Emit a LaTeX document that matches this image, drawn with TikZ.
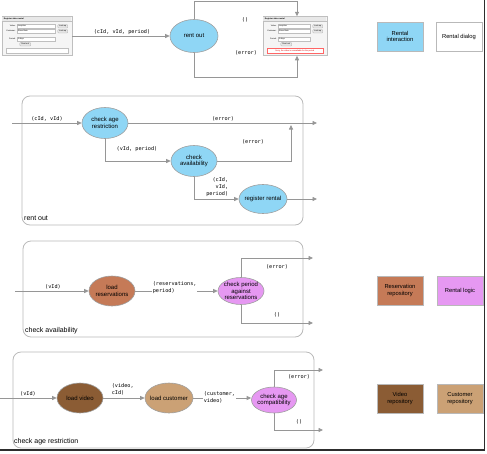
\documentclass[tikz,border=0pt]{standalone}
\usepackage{fontspec}
\setmainfont{Liberation Sans}
\setmonofont{DejaVu Sans Mono}
\usetikzlibrary{shapes.geometric,arrows.meta}
\definecolor{blueFill}{RGB}{143,214,245}
\definecolor{resFill}{RGB}{197,122,87}
\definecolor{logicFill}{RGB}{230,152,242}
\definecolor{videoFill}{RGB}{139,92,52}
\definecolor{custFill}{RGB}{203,161,117}
\definecolor{lineGray}{RGB}{150,150,150}
\begin{document}
\begin{tikzpicture}
            [x=1pt,y=-1pt,
             Proc/.style={ellipse,draw=gray!75,line width=0.6pt,inner sep=-2pt,align=center,font=\fontsize{6}{6.8}\selectfont},
             Key/.style={rectangle,draw=gray!55,line width=0.7pt,minimum width=46,minimum height=29,inner sep=0pt,align=center,font=\fontsize{5.8}{6.6}\selectfont},
             Flow/.style={draw=lineGray,line width=0.8pt,-{Triangle[length=4.5pt,width=4pt]}},
             Arg/.style={font=\ttfamily\fontsize{5.2}{7}\selectfont,fill=white,inner sep=0.6pt},
             Frame/.style={draw=gray!55,line width=0.8pt,rounded corners=8pt},
             Title/.style={anchor=west,inner sep=0pt,font=\fontsize{7}{8}\selectfont},
             Dialog/.style={rectangle,draw=gray!50,fill=gray!8,line width=0.5pt,minimum height=39,inner sep=0pt},
             Tiny/.style={inner sep=0pt,font=\fontsize{2}{2.4}\selectfont},
             Field/.style={draw=gray!50,fill=white,line width=0.3pt},
             Button/.style={draw=gray!60,fill=gray!20,line width=0.3pt,rounded corners=0.8pt}]
            \useasboundingbox (0,0) rectangle (487,453);
            \foreach \nm/\cx/\w in {dlgA/37/70, dlgB/295/64}{
                \node[Dialog,minimum width=\w] (\nm) at (\cx,36) {};
                \begin{scope}[shift={(\nm.north west)}]
                    \fill[gray!18] (0.3,0.3) rectangle (\w-0.3,4.5);
                    \draw[gray!50,line width=0.3pt] (0,4.5) -- (\w,4.5);
                    \node[Tiny,anchor=west] at (2,2.4) {\bfseries Register video rental};
                    \node[Tiny,anchor=east] at (14,10) {Video:};
                    \node[Tiny,anchor=east] at (14,15) {Customer:};
                    \node[Tiny,anchor=east] at (14,23) {Period:};
                    \draw[Field] (15,8.3) rectangle (\w-17,11.7);
                    \draw[Field] (15,13.3) rectangle (\w-17,16.7);
                    \draw[Field] (15,21.3) rectangle (\w-17,24.7);
                    \node[Tiny,anchor=west] at (16,10) {Inception};
                    \node[Tiny,anchor=west] at (16,15) {Steve Bate};
                    \node[Tiny,anchor=west] at (16,23) {3 days};
                    \draw[Button] (\w-14,8.3) rectangle (\w-4,11.7);
                    \draw[Button] (\w-14,13.3) rectangle (\w-4,16.7);
                    \node[Tiny] at (\w-9,10) {Look up};
                    \node[Tiny] at (\w-9,15) {Look up};
                    \draw[Button] (18,26.3) rectangle (29,29.7);
                    \node[Tiny] at (23.5,28) {Rent out};
                    \draw[Field] (4,32) rectangle (\w-4,37);
                \end{scope}
            }
            \begin{scope}[shift={(dlgB.north west)}]
                \draw[red!60,line width=0.3pt] (4,32) rectangle (60,37);
                \node[Tiny,text=red!85!black] (msg) at (32,34.5) {Sorry, the video is unavailable for the period};
            \end{scope}
            \node[Proc,fill=blueFill,minimum width=48,minimum height=33] (rent) at (194,36) {rent out};
            \draw [Flow](dlgA.east) to (rent.west);
            \node[Arg] (argRent) at (122,32) {(cId, vId, period)};
            \coordinate (up) at (297,1.5);
            \coordinate (down) at (297,77);
            \draw [Flow](rent.north) |- (up) to (up |- dlgB.north);
            \draw [Flow](rent.south) |- (down) to (down |- dlgB.south);
            \node[Arg] (okRent) at (245,20) {()};
            \node[Arg] (errRent) at (246,53) {(error)};
            \node[Key,fill=blueFill] (kInter) at (400,36.5) {Rental\\interaction};
            \node[Key,fill=white] (kDialog) at (459,36.5) {Rental dialog};

            \draw[Frame] (22,96) rectangle (303,225);
            \coordinate (in1) at (12,123);
            \node[Proc,fill=blueFill,minimum width=46,minimum height=31] (age) at (105,123) {check age\\restriction};
            \draw [Flow](in1) to (age.west);
            \node[Arg] (a1) at (47,119) {(cId, vId)};
            \coordinate (out1) at (317,123);
            \draw [Flow](age.east) to (out1);
            \node[Arg] (a2) at (223,119) {(error)};
            \node[Proc,fill=blueFill,minimum width=46,minimum height=31] (avail) at (194,161) {check\\availability};
            \draw [Flow](age.south) |- (avail.west);
            \node[Arg] (a3) at (137,149) {(vId, period)};
            \coordinate (j1) at (291,125);
            \draw [Flow](avail.east) -| (j1);
            \node[Arg] (a4) at (253,142) {(error)};
            \node[Proc,fill=blueFill,minimum width=48,minimum height=29] (reg) at (263,199) {register rental};
            \draw [Flow](avail.south) |- (reg.west);
            \node[Arg,align=right,anchor=south east] (a5) at (229,197) {(cId,\\vId,\\period)};
            \coordinate (out2) at (317,199);
            \draw [Flow](reg.east) to (out2);
            \node[Title] (t1) at (24,218) {rent out};

            \draw[Frame] (23,241) rectangle (303,337);
            \coordinate (in2) at (15,291);
            \node[Proc,fill=resFill,minimum width=46,minimum height=30] (load) at (112,291) {load\\reservations};
            \draw [Flow](in2) to (load.west);
            \node[Arg] (b1) at (53,287) {(vId)};
            \node[Proc,fill=logicFill,minimum width=46,minimum height=27] (period) at (241,291) {check period\\against\\reservations};
            \draw [Flow](load.east) to (period.west);
            \node[Arg,align=left,anchor=west] (b2) at (152,287.5) {(reservations,\\period)};
            \coordinate (e2) at (313,258);
            \draw [Flow](period.north) |- (e2);
            \node[Arg] (b3) at (277,267) {(error)};
            \coordinate (o2) at (313,323);
            \draw [Flow](period.south) |- (o2);
            \node[Arg] (b4) at (277,315) {()};
            \node[Title] (t2) at (25,331) {check availability};
            \node[Key,fill=resFill] (kRes) at (400,290.5) {Reservation\\repository};
            \node[Key,fill=logicFill] (kLogic) at (460,290.5) {Rental logic};

            \draw[Frame] (13,352) rectangle (314,448);
            \coordinate (in3) at (0,398);
            \node[Proc,fill=videoFill,minimum width=46,minimum height=30] (video) at (80,398) {load video};
            \draw [Flow](in3) to (video.west);
            \node[Arg] (c1) at (28,394) {(vId)};
            \node[Proc,fill=custFill,minimum width=48,minimum height=30] (cust) at (169,398) {load customer};
            \draw [Flow](video.east) to (cust.west);
            \node[Arg,align=left,anchor=west] (c2) at (111,389.5) {(video,\\cId)};
            \node[Proc,fill=logicFill,minimum width=45,minimum height=26] (compat) at (274,400) {check age\\compatibility};
            \draw [Flow](cust.east) to (cust.east -| compat.west);
            \node[Arg,align=left,anchor=west] (c3) at (203,397.5) {(customer,\\video)};
            \coordinate (e3) at (323,370);
            \draw [Flow](compat.north) |- (e3);
            \node[Arg] (c4) at (299,377) {(error)};
            \coordinate (o3) at (323,430);
            \draw [Flow](compat.south) |- (o3);
            \node[Arg] (c5) at (299,422) {()};
            \node[Title] (t3) at (14,442) {check age restriction};
            \node[Key,fill=videoFill] (kVideo) at (400,398.5) {Video\\repository};
            \node[Key,fill=custFill] (kCust) at (460,398.5) {Customer\\repository};

            \draw[gray!35!black,line width=1.6pt] (484.5,0) -- (484.5,450) -- (0,450);
        \end{tikzpicture}
\end{document}
